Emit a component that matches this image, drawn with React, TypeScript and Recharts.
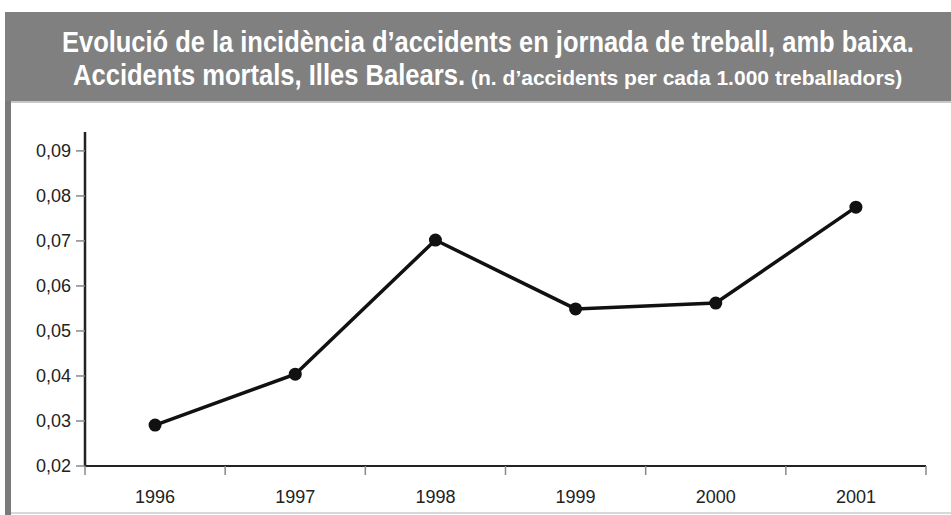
import { useLayoutEffect, useRef, useState } from "react";
import { LineChart, Line, XAxis, YAxis } from "recharts";

const YEARS = ["1996", "1997", "1998", "1999", "2000", "2001"];
const INCIDENCE = [0.0291, 0.0404, 0.0702, 0.0549, 0.0562, 0.0775];
const Y_TICKS = [0.02, 0.03, 0.04, 0.05, 0.06, 0.07, 0.08, 0.09];
const BOUNDARY_TICKS = [0, 1, 2, 3, 4, 5, 6];
const LABEL_TICKS = [0.5, 1.5, 2.5, 3.5, 4.5, 5.5];

const TITLE_1 = "Evolució de la incidència d’accidents en jornada de treball, amb baixa.";
const TITLE_2 = "Accidents mortals, Illes Balears.";
const SUBTITLE = "(n. d’accidents per cada 1.000 treballadors)";

const data = YEARS.map((year, i) => ({ year, pos: i + 0.5, value: INCIDENCE[i] }));

const tickFont = { fontSize: 18, fill: "#222", fontFamily: "'Liberation Sans', Arial, sans-serif" };
const titleFont = "'Liberation Sans', Arial, sans-serif";

// the original title uses a condensed face; squeeze a regular bold one to the same width
function SqueezedText({ x, y, width, size, children }: { x: number; y: number; width: number; size: number; children: string }) {
  const ref = useRef<SVGTextElement>(null);
  const [sx, setSx] = useState(0.75);
  useLayoutEffect(() => {
    if (ref.current) {
      const natural = ref.current.getComputedTextLength();
      if (natural > 0) setSx(width / natural);
    }
  }, [width, children]);
  return (
    <text ref={ref} transform={`translate(${x},${y}) scale(${sx},1)`} fontSize={size}>
      {children}
    </text>
  );
}

export default function App() {
  return (
    <div style={{ position: "absolute", left: 0, top: 0, width: 951, height: 515, background: "#fff", overflow: "hidden" }}>
      <svg width={951} height={103} style={{ position: "absolute", left: 0, top: 0 }}>
        <rect x={5} y={12} width={946} height={89} fill="#808080" />
        <rect x={5} y={101} width={946} height={2} fill="#c8c8c8" />
        <g fill="#fff" fontFamily={titleFont} fontWeight="bold">
          <SqueezedText x={62} y={52} width={852} size={29}>{TITLE_1}</SqueezedText>
          <SqueezedText x={73} y={85} width={392} size={29}>{TITLE_2}</SqueezedText>
          <SqueezedText x={471} y={85} width={431} size={20}>{SUBTITLE}</SqueezedText>
        </g>
      </svg>
      <div style={{ position: "absolute", left: 5, top: 101, width: 6, height: 414, background: "#7a7a7a" }} />
      <div style={{ position: "absolute", left: 11, top: 512, width: 940, height: 2, background: "#d8d8d8" }} />

      <div style={{ position: "absolute", left: 11, top: 101 }}>
        <LineChart width={940} height={410} data={data} margin={{ top: 31, right: 25, bottom: 3, left: 0 }}>
          <XAxis
            type="number"
            dataKey="pos"
            domain={[0, 6]}
            ticks={BOUNDARY_TICKS}
            tickFormatter={() => ""}
            height={12}
            tickSize={9}
            axisLine={{ stroke: "#222", strokeWidth: 2 }}
            tickLine={{ stroke: "#888", strokeWidth: 1.5 }}
            tick={tickFont}
          />
          <XAxis
            xAxisId="labels"
            type="number"
            dataKey="pos"
            domain={[0, 6]}
            ticks={LABEL_TICKS}
            tickFormatter={(v: number) => YEARS[Math.floor(v)]}
            height={30}
            tickSize={0}
            tickMargin={12}
            axisLine={false}
            tickLine={false}
            tick={tickFont}
          />
          <YAxis
            domain={[0.02, 0.0942]}
            ticks={Y_TICKS}
            allowDataOverflow
            width={74}
            tickSize={9}
            tickMargin={5}
            tickFormatter={(v: number) => v.toFixed(2).replace(".", ",")}
            axisLine={{ stroke: "#222", strokeWidth: 2.5 }}
            tickLine={{ stroke: "#888", strokeWidth: 1.5 }}
            tick={tickFont}
          />
          <Line
            dataKey="value"
            stroke="#111"
            strokeWidth={3.5}
            dot={{ r: 6.5, fill: "#111", stroke: "#111", strokeWidth: 0 }}
            isAnimationActive={false}
          />
        </LineChart>
      </div>
    </div>
  );
}
